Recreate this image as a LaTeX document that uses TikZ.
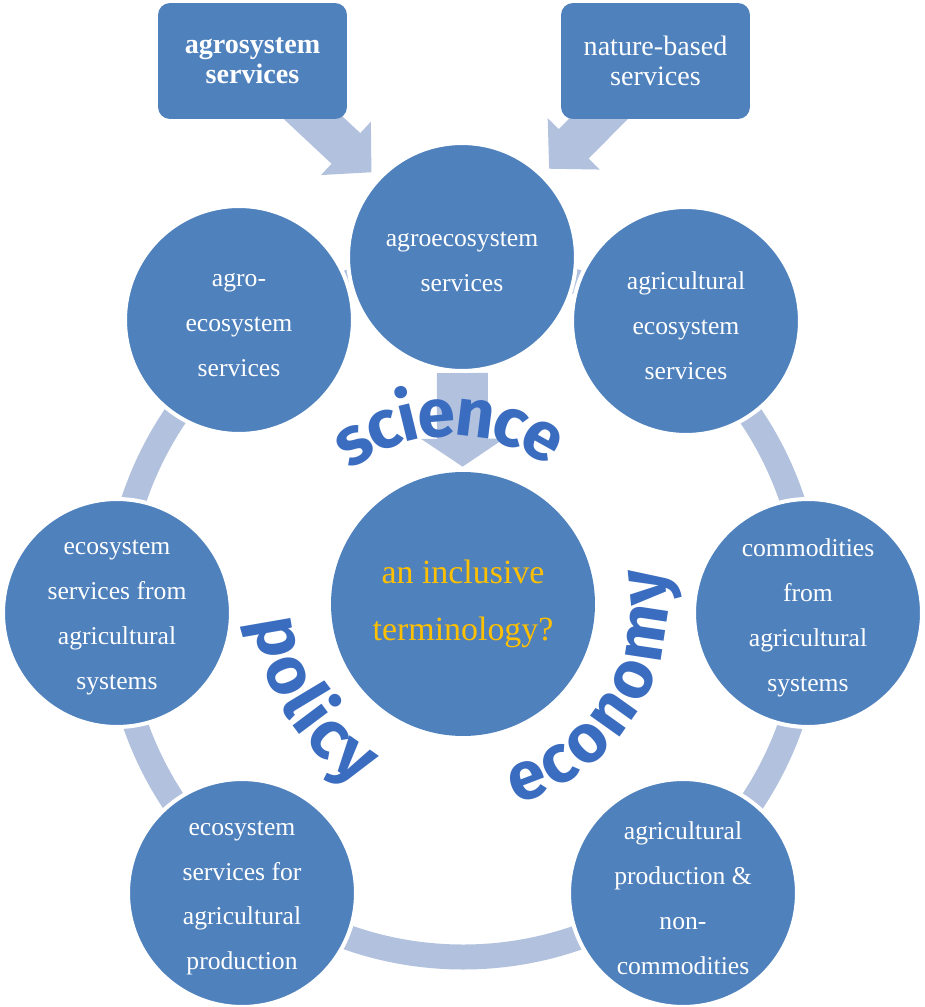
\documentclass[tikz,border=0pt]{standalone}
\usepackage{fontspec}
\setmainfont{Liberation Serif}
\newfontfamily\wordartfont{Fira Sans}
\usetikzlibrary{arrows.meta,decorations.text,backgrounds}
\definecolor{bubbleBlue}{RGB}{79,129,189}
\definecolor{paleBlue}{RGB}{178,194,222}
\definecolor{askGold}{RGB}{255,192,0}
\definecolor{artBlue}{RGB}{58,108,192}
\newcommand{\artfont}{\wordartfont\bfseries\fontsize{38.7pt}{38.7pt}\selectfont\color{artBlue}}
\tikzset{
    every node/.append style={align=center},
    bubble/.style={circle,fill=bubbleBlue,draw=white,line width=0.08cm,minimum size=4.56cm,
        inner sep=0pt,label={[bubbletext]center:#1}},
    bubbletext/.style={text=white,yshift=-0.1cm,font=\fontsize{14.6pt}{25.6pt}\selectfont},
    hub/.style={circle,fill=bubbleBlue,minimum size=5.28cm,inner sep=0pt,text=askGold,
        font=\fontsize{19.3pt}{32.4pt}\selectfont},
    tagbox/.style={rectangle,fill=bubbleBlue,rounded corners=0.24cm,minimum width=3.78cm,
        minimum height=2.32cm,text=white,font=\fontsize{16pt}{17.1pt}\selectfont},
    fatarr/.style={draw=paleBlue,line width=0.84cm,-{Triangle[length=0.7cm,width=1.42cm]}},
    downarr/.style={draw=paleBlue,line width=1.02cm,-{Triangle[length=0.56cm,width=1.64cm]}},
    band/.style={draw=paleBlue,line width=0.5cm},
    curvy/.style={decorate,decoration={text along path,text align=center,raise=-0.36cm,
        text={|\artfont|#1}}}
}

\begin{document}
\begin{tikzpicture}[x=0.02cm,y=-0.02cm]
    \useasboundingbox (0,0) rectangle (925,1007);
    % source terms
    \node[tagbox,font=\bfseries\fontsize{16pt}{17.1pt}\selectfont] (agrosys) at (252.5,61) {agrosystem\\services};
    \node[tagbox] (natbased) at (655.5,61) {nature-based\\services};
    % the cycle
    \node[bubble={agroecosystem\\services}] (agroeco) at (462,257) {};
    \node[bubble={agro-\\ecosystem\\services}] (agrohyph) at (239,320) {};
    \node[bubble={agricultural\\ecosystem\\services}] (agriceco) at (686,321) {};
    \node[bubble={ecosystem\\services from\\agricultural\\systems}] (esfrom) at (117,613) {};
    \node[bubble={commodities\\from\\agricultural\\systems}] (commod) at (808,613) {};
    \node[bubble={ecosystem\\services for\\agricultural\\production}] (esfor) at (242,893) {};
    \node[bubble={agricultural\\production \&\\non-\\commodities}] (noncomm) at (683,893) {};
    \node[hub] (inclusive) at (463,604) {an inclusive\\terminology?};
    \coordinate (ringc) at (463,610);

    \begin{scope}[on background layer]
        \fill[white] (0,0) rectangle (925,1007);
        \draw[band] (ringc) circle[radius=347];
        \draw[fatarr,shorten >=0.16cm] (agrosys.center) -- (agroeco);
        \draw[fatarr,shorten >=0.16cm] (natbased.center) -- (agroeco);
        \draw[downarr,shorten >=0.1cm] (agroeco) -- (inclusive);
    \end{scope}

    % word art round the hub
    \path[curvy=science] (452,602) ++(212:184) arc[start angle=212,end angle=326,radius=184];
    \path[curvy=policy] (463,605) ++(190:190) arc[start angle=190,end angle=106,radius=190];
    \path[curvy=economy] (461,605) ++(82:188) arc[start angle=82,end angle=-18,radius=188];
\end{tikzpicture}
\end{document}
